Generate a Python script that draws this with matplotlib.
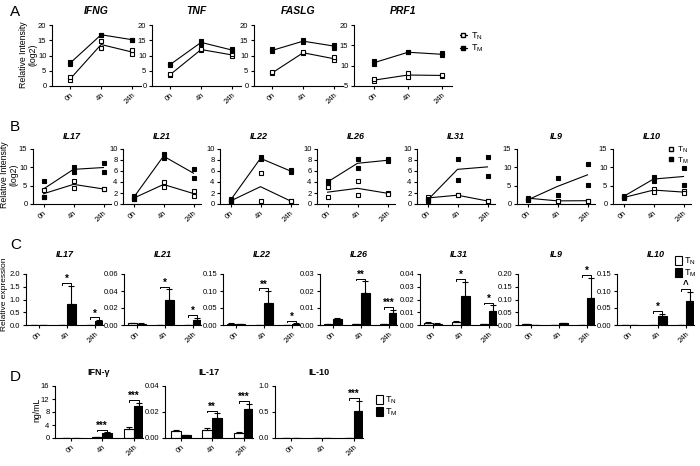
import matplotlib.pyplot as plt
from matplotlib.lines import Line2D
from matplotlib.patches import Patch
import numpy as np

W, H = 700, 466
fig = plt.figure(figsize=(7, 4.66), dpi=100)
plt.rcParams['font.family'] = ['Liberation Sans', 'DejaVu Sans']

times = ['0h', '4h', '24h']

# ---- panel A data (replicates per time point) ----
a_genes = ['IFNG', 'TNF', 'FASLG', 'PRF1']
a_tn = [[[2.0, 2.8], [12.5, 14.7], [10.5, 11.8]],
        [[3.7, 3.9], [11.7, 12.2], [9.9, 10.5]],
        [[4.2, 4.5], [10.8, 11.0], [8.5, 9.4]],
        [[6.3, 6.6], [7.2, 8.2], [7.5, 7.7]]]
a_tm = [[[7.2, 8.0], [16.8, 16.8], [15.2, 15.2]],
        [[7.0, 7.2], [13.8, 14.8], [11.6, 12.0]],
        [[11.4, 12.0], [14.4, 15.0], [12.6, 13.6]],
        [[10.3, 11.2], [13.3, 13.3], [12.6, 13.0]]]
a_ylim = [(0, 20), (0, 20), (0, 20), (5, 20)]

# ---- panel B data ----
b_genes = ['IL17', 'IL21', 'IL22', 'IL26', 'IL31', 'IL9', 'IL10']
b_tn = [[[3.7, 1.9], [6.3, 4.4], [4.2, 4.0]],
        [[1.2, 0.9], [4.0, 3.1], [2.3, 1.5]],
        [[0.6, 0.5], [5.7, 0.6], [0.6, 0.5]],
        [[3.0, 1.3], [4.1, 1.6], [2.0, 1.9]],
        [[1.3, 0.9], [1.6, 1.6], [0.6, 0.5]],
        [[1.7, 1.5], [0.9, 0.8], [0.9, 0.9]],
        [[1.8, 1.7], [4.2, 3.4], [3.6, 2.9]]]
b_tm = [[[6.2, 2.0], [10.1, 8.8], [11.3, 8.6]],
        [[1.4, 0.9], [9.0, 8.4], [6.4, 4.8]],
        [[0.9, 0.5], [8.5, 8.1], [6.2, 5.8]],
        [[4.2, 3.8], [8.2, 6.6], [8.1, 7.8]],
        [[0.8, 0.6], [8.2, 4.4], [8.5, 5.0]],
        [[1.0, 1.2], [7.1, 2.5], [10.8, 5.1]],
        [[2.2, 1.9], [7.4, 6.2], [9.7, 5.3]]]
b_ymax = [15, 10, 10, 10, 10, 15, 15]
b_ystep = [5, 2, 2, 2, 2, 5, 5]

# ---- panel C data ----
c_genes = ['IL17', 'IL21', 'IL22', 'IL26', 'IL31', 'IL9', 'IL10']
c_tn = [[0.0, 0.0, 0.0], [0.002, 0.0005, 0.0005], [0.004, 0.001, 0.0005],
        [0.0005, 0.0006, 0.0003], [0.0018, 0.0025, 0.0005],
        [0.002, 0.001, 0.0], [0.0, 0.0, 0.0]]
c_tn_err = [[0.0, 0.0, 0.0], [0.0008, 0.0, 0.0], [0.001, 0.0, 0.0],
            [0.0001, 0.0001, 0.0], [0.0003, 0.0004, 0.0001],
            [0.0005, 0.0003, 0.0], [0.0, 0.0, 0.0]]
c_tm = [[0.0, 0.82, 0.14], [0.0015, 0.030, 0.006], [0.002, 0.066, 0.004],
        [0.0034, 0.0187, 0.0073], [0.001, 0.0225, 0.0112],
        [0.0, 0.006, 0.105], [0.0, 0.026, 0.072]]
c_tm_err = [[0.0, 0.72, 0.06], [0.0003, 0.012, 0.0025], [0.0005, 0.034, 0.001],
            [0.0005, 0.007, 0.0016], [0.0002, 0.0115, 0.0043],
            [0.0, 0.002, 0.08], [0.0, 0.007, 0.025]]
c_stars = [['', '*', '*'], ['', '*', '*'], ['', '**', '*'], ['', '**', '***'],
           ['', '*', '*'], ['', '', '*'], ['', '*', '^']]
c_ymax = [2.0, 0.06, 0.15, 0.03, 0.04, 0.20, 0.15]
c_ystep = [0.5, 0.02, 0.05, 0.01, 0.01, 0.05, 0.05]
c_fmt = ['%.1f', '%.2f', '%.2f', '%.2f', '%.2f', '%.2f', '%.2f']

# ---- panel D data ----
d_names = ['IFN-γ', 'IL-17', 'IL-10']
d_tn = [[0.0, 0.3, 2.8], [0.0055, 0.006, 0.0035], [0.0, 0.0, 0.0]]
d_tn_err = [[0.0, 0.05, 0.7], [0.0007, 0.002, 0.0015], [0.0, 0.0, 0.0]]
d_tm = [[0.0, 1.5, 9.8], [0.002, 0.0155, 0.022], [0.0, 0.0, 0.52]]
d_tm_err = [[0.0, 0.2, 1.0], [0.0003, 0.0035, 0.0045], [0.0, 0.0, 0.2]]
d_stars = [['', '***', '***'], ['', '**', '***'], ['', '', '***']]
d_ymax = [16, 0.04, 1.0]
d_ystep = [4, 0.02, 0.5]
d_fmt = ['%d', '%.2f', '%.1f']

TICK_FS = 5.5
LEG_LABELS = ['T$_\\mathregular{N}$', 'T$_\\mathregular{M}$']


def px_axes(x0, top, x1, bottom):
    return fig.add_axes([x0 / W, 1 - bottom / H, (x1 - x0) / W, (bottom - top) / H])


def style(ax):
    for s in ['top', 'right']:
        ax.spines[s].set_visible(False)
    for s in ['left', 'bottom']:
        ax.spines[s].set_linewidth(0.8)
    ax.tick_params(labelsize=TICK_FS, length=2.5, width=0.8, pad=1.5)
    ax.set_xticks(range(3))
    ax.set_xticklabels(times, rotation=45, ha='right', rotation_mode='anchor')


def line_panel(ax, tn, tm):
    x = np.arange(3)
    for reps, fc in [(tn, 'white'), (tm, 'black')]:
        reps = np.array(reps)
        ax.plot(x, reps.mean(axis=1), color='k', lw=0.8, zorder=1)
        for i in range(3):
            ax.plot([x[i]] * reps.shape[1], reps[i], 's', ms=3.3,
                    mfc=fc, mec='k', mew=0.8, zorder=2, clip_on=False)


def bar_panel(ax, tn, tne, tm, tme, stars, ymax):
    x = np.arange(3)
    bw = 0.32
    ax.bar(x - bw / 2, tn, bw, color='white', edgecolor='k', lw=0.8)
    ax.bar(x + bw / 2, tm, bw, color='black', edgecolor='k', lw=0.8)
    ax.errorbar(x - bw / 2, tn, yerr=[np.zeros(3), tne], fmt='none',
                ecolor='k', elinewidth=0.8, capsize=2, capthick=0.8)
    ax.errorbar(x + bw / 2, tm, yerr=[np.zeros(3), tme], fmt='none',
                ecolor='k', elinewidth=0.8, capsize=2, capthick=0.8)
    for i in range(3):
        if not stars[i]:
            continue
        top = max(tn[i] + tne[i], tm[i] + tme[i]) + 0.05 * ymax
        d = 0.03 * ymax
        ax.plot([i - bw / 2, i - bw / 2, i + bw / 2, i + bw / 2],
                [top - d, top, top, top - d], color='k', lw=0.7, clip_on=False)
        ax.text(i, top - 0.02 * ymax, stars[i], ha='center', va='bottom',
                fontsize=7, fontweight='bold')


def ylabel(x, y, s, fs=6.3):
    fig.text(x / W, 1 - y / H, s, rotation=90, ha='center', va='center',
             fontsize=fs, multialignment='center', linespacing=1.05)


# ================= Panel A =================
a_x = [52, 152, 254, 354]
a_w = [89, 89, 89, 98]
for k, g in enumerate(a_genes):
    ax = px_axes(a_x[k], 25, a_x[k] + a_w[k], 86)
    line_panel(ax, a_tn[k], a_tm[k])
    style(ax)
    ax.set_xlim(-0.6, 2.3)
    ax.set_ylim(*a_ylim[k])
    ax.set_yticks(np.arange(a_ylim[k][0], 21, 5))
    ax.set_title(g, fontsize=7.5, fontweight='bold', style='italic', pad=8)
ylabel(28, 55, 'Relative Intensity\n(log2)')

leg_a = [Line2D([0], [0], color='k', lw=0.8, marker='s', ms=3.3, mfc='white', mec='k'),
         Line2D([0], [0], color='k', lw=0.8, marker='s', ms=3.3, mfc='black', mec='k')]
fig.legend(leg_a, LEG_LABELS, loc='upper left',
           bbox_to_anchor=(455 / W, 1 - 26 / H), frameon=False, fontsize=6.5,
           handlelength=0.8, handletextpad=0.5, labelspacing=0.1, borderpad=0)

# ================= Panel B =================
b_x = [33, 123, 220, 317, 417, 517, 613]
for k, g in enumerate(b_genes):
    ax = px_axes(b_x[k], 149, b_x[k] + 78, 204)
    line_panel(ax, b_tn[k], b_tm[k])
    style(ax)
    ax.set_xlim(-0.35, 2.25)
    ax.set_ylim(0, b_ymax[k])
    ax.set_yticks(np.arange(0, b_ymax[k] + 0.1, b_ystep[k]))
    ax.set_title(g, fontsize=6.5, fontweight='bold', style='italic', pad=7)
    if k == len(b_genes) - 1:
        h = [Line2D([0], [0], ls='none', marker='s', ms=3.3, mfc='white', mec='k'),
             Line2D([0], [0], ls='none', marker='s', ms=3.3, mfc='black', mec='k')]
        ax.legend(h, LEG_LABELS, loc='upper right',
                  bbox_to_anchor=(1.02, 1.15), frameon=False, fontsize=6,
                  handlelength=0.6, handletextpad=0.4, labelspacing=0.0, borderpad=0)
ylabel(9, 175, 'Relative Intensity\n(log2)')

# ================= Panel C =================
c_x = [26, 124, 223, 320, 420, 518, 617]
for k, g in enumerate(c_genes):
    ax = px_axes(c_x[k], 274, c_x[k] + 77, 325)
    bar_panel(ax, c_tn[k], c_tn_err[k], c_tm[k], c_tm_err[k], c_stars[k], c_ymax[k])
    style(ax)
    ax.set_xlim(-0.45, 2.3)
    ax.set_ylim(0, c_ymax[k])
    yt = np.arange(0, c_ymax[k] + 1e-9, c_ystep[k])
    ax.set_yticks(yt)
    ax.set_yticklabels([c_fmt[k] % v for v in yt])
    ax.set_title(g, fontsize=6.5, fontweight='bold', style='italic', pad=12)
ylabel(5, 294, 'Relative expression', fs=6)

leg_c = [Patch(facecolor='white', edgecolor='k', lw=0.8),
         Patch(facecolor='black', edgecolor='k', lw=0.8)]
fig.legend(leg_c, LEG_LABELS, loc='upper left',
           bbox_to_anchor=(670 / W, 1 - 251 / H), frameon=False, fontsize=6.5,
           handlelength=0.8, handleheight=1.3, handletextpad=0.3,
           labelspacing=0.05, borderpad=0)

# ================= Panel D =================
d_x = [55, 165, 275]
for k, g in enumerate(d_names):
    ax = px_axes(d_x[k], 386, d_x[k] + 88, 438)
    bar_panel(ax, d_tn[k], d_tn_err[k], d_tm[k], d_tm_err[k], d_stars[k], d_ymax[k])
    style(ax)
    ax.set_xlim(-0.5, 2.3)
    ax.set_ylim(0, d_ymax[k])
    yt = np.arange(0, d_ymax[k] + 1e-9, d_ystep[k])
    ax.set_yticks(yt)
    ax.set_yticklabels([d_fmt[k] % v for v in yt])
    ax.set_title(g, fontsize=6.5, fontweight='bold', pad=8)
ylabel(37, 410, 'ng/mL')

fig.legend(leg_c, LEG_LABELS, loc='upper left',
           bbox_to_anchor=(371 / W, 1 - 390 / H), frameon=False, fontsize=6.5,
           handlelength=0.8, handleheight=1.3, handletextpad=0.3,
           labelspacing=0.05, borderpad=0)

# panel letters
for lbl, y in [('A', 12), ('B', 127), ('C', 245), ('D', 377)]:
    fig.text(10 / W, 1 - y / H, lbl, fontsize=11, va='center', ha='left')

fig.savefig('out.png', dpi=100)
